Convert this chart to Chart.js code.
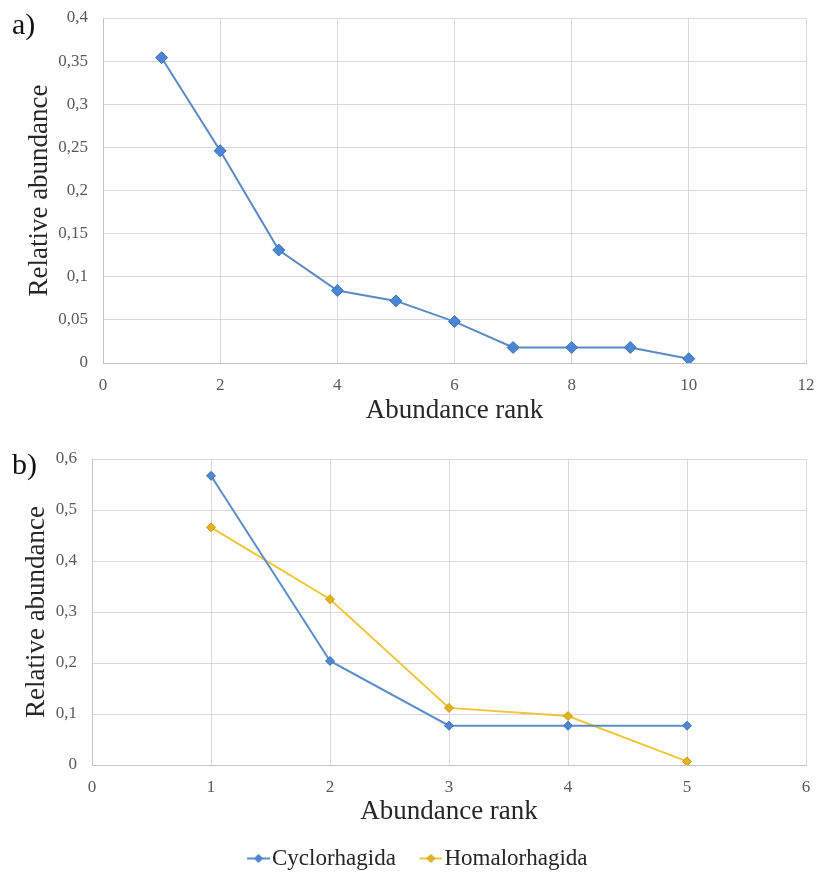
<!DOCTYPE html>
<html>
<head>
<meta charset="utf-8">
<script src="https://cdn.jsdelivr.net/npm/chart.js@4.4.0/dist/chart.umd.min.js"></script>
<style>
    body { margin: 0; background: #fff; width: 817px; height: 874px; overflow: hidden; position: relative; }
    .panel { position: absolute; left: 0; width: 817px; height: 440px; }
    .tag { position: absolute; left: 12px; z-index: 2; font-family: "Liberation Serif", serif; font-size: 30px; line-height: 30px; color: #111; }
</style>
</head>
<body>
<div class="panel" style="top:0"><canvas id="chartA" width="817" height="440"></canvas></div>
<div class="panel" style="top:440px"><canvas id="chartB" width="817" height="440"></canvas></div>
<div class="tag" style="top:9px">a)</div>
<div class="tag" style="top:449px">b)</div>
<script>
// a) rank-abundance, all species
const rankA = [1, 2, 3, 4, 5, 6, 7, 8, 9, 10];
const abundanceA = [0.354, 0.246, 0.131, 0.084, 0.072, 0.048, 0.018, 0.018, 0.018, 0.005];

// b) rank-abundance by order
const rankB = [1, 2, 3, 4, 5];
const cyclorhagida = [0.567, 0.204, 0.077, 0.077, 0.077];
const homalorhagida = [0.466, 0.325, 0.112, 0.096, 0.007];
const seriesNamesB = ['Cyclorhagida', 'Homalorhagida'];

const serif = 'Liberation Serif';
const tickColor = '#595959';
const titleColor = '#262626';
const gridColor = '#d9d9d9';

// tick labels use a decimal comma
function comma(v) {
    return String(Math.round(v * 100) / 100).replace('.', ',');
}

function toPoints(xs, ys) {
    return xs.map((x, i) => ({ x: x, y: ys[i] }));
}

function axis(min, max, step, titleText, titlePadding, fit, isY) {
    return {
        type: 'linear',
        min: min,
        max: max,
        ticks: {
            stepSize: step,
            padding: isY ? 15 : 12,
            color: tickColor,
            font: { family: serif, size: 17 },
            callback: comma
        },
        grid: { color: gridColor, lineWidth: 1, drawTicks: false },
        border: { color: '#c4c4c4' },
        title: {
            display: true,
            text: titleText,
            color: titleColor,
            font: { family: serif, size: 27 },
            padding: titlePadding
        },
        afterFit: fit
    };
}

// fixed axis sizes so the plot areas sit where the original ones do
function fitX(h) {
    return s => { s.height = h; s.paddingLeft = 0; s.paddingRight = 11; };
}
function fitY(w) {
    return s => { s.width = w; s.paddingTop = 0; s.paddingBottom = 0; };
}

// legend mark: short line with a diamond, drawn on the right part of a wider image
function legendMark(lineColor, fill, border) {
    const c = document.createElement('canvas');
    c.width = 50;
    c.height = 14;
    const g = c.getContext('2d');
    g.strokeStyle = lineColor;
    g.lineWidth = 2;
    g.beginPath();
    g.moveTo(27, 7);
    g.lineTo(50, 7);
    g.stroke();
    g.fillStyle = fill;
    g.strokeStyle = border;
    g.lineWidth = 1;
    g.beginPath();
    g.moveTo(38.5, 3);
    g.lineTo(42.5, 7);
    g.lineTo(38.5, 11);
    g.lineTo(34.5, 7);
    g.closePath();
    g.fill();
    g.stroke();
    return c;
}

new Chart(document.getElementById('chartA'), {
    type: 'scatter',
    data: {
        datasets: [{
            label: 'Relative abundance',
            data: toPoints(rankA, abundanceA),
            showLine: true,
            borderColor: '#5a89c4',
            borderWidth: 2,
            pointStyle: 'rectRot',
            pointRadius: 6,
            pointBackgroundColor: '#4a86d4',
            pointBorderColor: '#3d73b8',
            pointBorderWidth: 1
        }]
    },
    options: {
        responsive: false,
        animation: false,
        layout: { padding: { top: 18, right: 0, left: 0, bottom: 0 } },
        plugins: { legend: { display: false }, tooltip: { enabled: false } },
        scales: {
            x: axis(0, 12, 2, 'Abundance rank', { top: 0, bottom: 13 }, fitX(77), false),
            y: axis(0, 0.4, 0.05, 'Relative abundance', { top: 24, bottom: 0 }, fitY(103), true)
        }
    }
});

const marksB = [
    legendMark('#5b8ec6', '#4f86cf', '#3d73b8'),
    legendMark('#f0c53a', '#e2b21c', '#c99b13')
];

new Chart(document.getElementById('chartB'), {
    type: 'scatter',
    data: {
        datasets: [{
            label: seriesNamesB[0],
            data: toPoints(rankB, cyclorhagida),
            showLine: true,
            borderColor: '#5b8ec6',
            borderWidth: 2,
            pointStyle: 'rectRot',
            pointRadius: 4.5,
            pointBackgroundColor: '#4f86cf',
            pointBorderColor: '#3d73b8',
            pointBorderWidth: 1
        }, {
            label: seriesNamesB[1],
            data: toPoints(rankB, homalorhagida),
            showLine: true,
            borderColor: '#f0c53a',
            borderWidth: 2,
            pointStyle: 'rectRot',
            pointRadius: 4.5,
            pointBackgroundColor: '#e2b21c',
            pointBorderColor: '#c99b13',
            pointBorderWidth: 1
        }]
    },
    options: {
        responsive: false,
        animation: false,
        layout: { padding: { top: 19, right: 0, left: 0, bottom: 0 } },
        plugins: {
            tooltip: { enabled: false },
            legend: {
                position: 'bottom',
                labels: {
                    usePointStyle: true,
                    pointStyleWidth: 31,
                    padding: 6,
                    color: titleColor,
                    font: { family: serif, size: 23 },
                    generateLabels: chart => {
                        const items = Chart.defaults.plugins.legend.labels.generateLabels(chart);
                        items.forEach((item, i) => { item.pointStyle = marksB[i]; });
                        return items;
                    }
                }
            }
        },
        scales: {
            x: axis(0, 6, 1, 'Abundance rank', { top: 0, bottom: 13 }, fitX(76), false),
            y: axis(0, 0.6, 0.1, 'Relative abundance', { top: 21, bottom: 0 }, fitY(92), true)
        }
    }
});
</script>
</body>
</html>
